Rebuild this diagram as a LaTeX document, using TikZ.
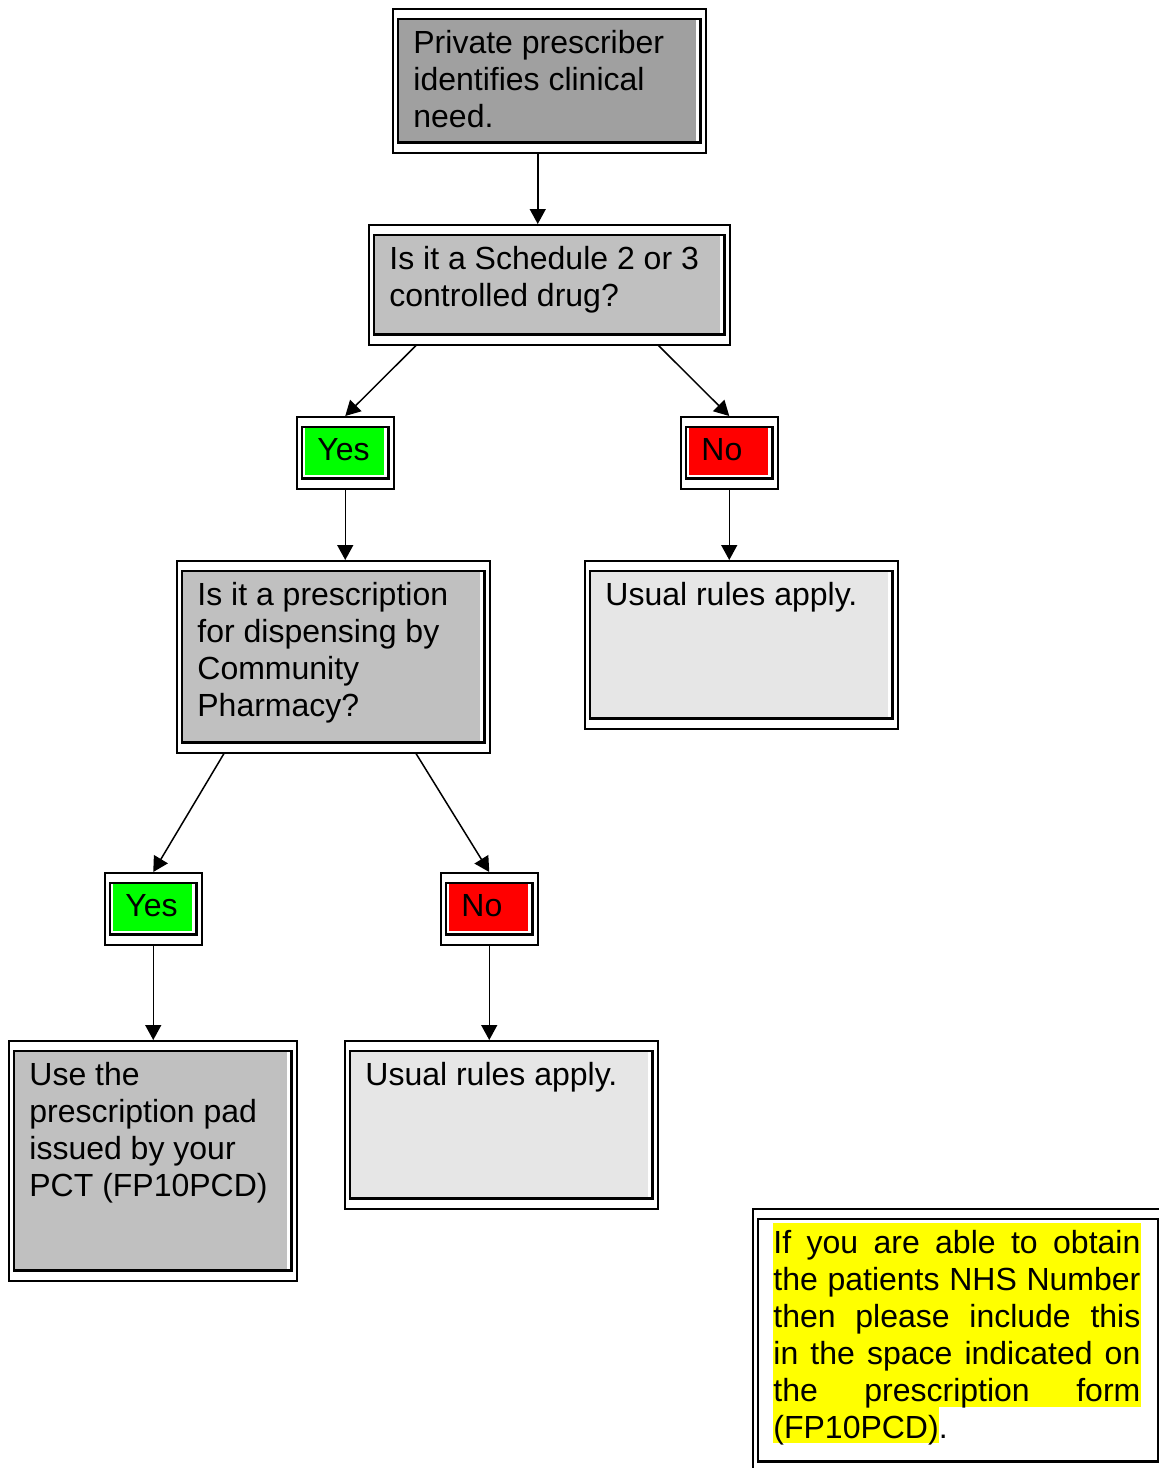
\documentclass[tikz,border=0pt]{standalone}
\usepackage{fontspec}
\setmainfont{Liberation Sans}
\usetikzlibrary{arrows.meta}

\definecolor{darkfill}{RGB}{160,160,160}
\definecolor{midfill}{RGB}{192,192,192}
\definecolor{lightfill}{RGB}{230,230,230}
\definecolor{yesfill}{RGB}{0,255,0}
\definecolor{nofill}{RGB}{255,0,0}
\definecolor{notefill}{RGB}{255,255,0}

\tikzset{
  frame/.style={draw, fill=white, line width=0.75pt, inner sep=0pt, anchor=north west},
  inner/.style={draw, line width=1.25pt},
  txt/.style={anchor=north west, inner sep=0pt, align=left, font=\fontsize{16}{18.5}\selectfont},
  flow/.style={-{Triangle[length=7.5pt,width=8pt]}, line width=0.75pt}
}

\begin{document}
\begin{tikzpicture}[x=0.5pt, y=-0.5pt]
  \useasboundingbox (0,0) rectangle (1158,1468);

  % Frames
  \node[frame, minimum width=156.5pt, minimum height=72pt] (need) at (392,8) {};
  \node[frame, minimum width=180.5pt, minimum height=60pt] (sched) at (368,224) {};
  \node[frame, minimum width=48.5pt, minimum height=36pt] (yes1) at (296,416) {};
  \node[frame, minimum width=48.5pt, minimum height=36pt] (no1) at (680,416) {};
  \node[frame, minimum width=156.5pt, minimum height=96pt] (comm) at (176,560) {};
  \node[frame, minimum width=156.5pt, minimum height=84pt] (usual1) at (584,560) {};
  \node[frame, minimum width=48.5pt, minimum height=36pt] (yes2) at (104,872) {};
  \node[frame, minimum width=48.5pt, minimum height=36pt] (no2) at (440,872) {};
  \node[frame, minimum width=144pt, minimum height=120pt] (pad) at (8,1040) {};
  \node[frame, minimum width=156.5pt, minimum height=84pt] (usual2) at (344,1040) {};
  \node[frame, minimum width=205.5pt, minimum height=131.5pt] (nhs) at (752,1208) {};

  % Inner boxes
  \foreach \n/\c in {need/darkfill, sched/midfill, comm/midfill, usual1/lightfill,
                     pad/midfill, usual2/lightfill, nhs/white} {
    \fill[\c] ([shift={(6,11)}]\n.north west) rectangle ([shift={(-11,-11)}]\n.south east);
    \draw[inner] ([shift={(6,11)}]\n.north west) rectangle ([shift={(-6,-11)}]\n.south east);
  }
  \foreach \n/\c in {yes1/yesfill, no1/nofill, yes2/yesfill, no2/nofill} {
    \fill[\c] ([shift={(9,11)}]\n.north west) rectangle ([shift={(-11,-15)}]\n.south east);
    \draw[inner] ([shift={(6,11)}]\n.north west) rectangle ([shift={(-6,-11)}]\n.south east);
  }

  % Highlight
  \fill[notefill] ([shift={(21,15)}]nhs.north west) rectangle ([shift={(389,199)}]nhs.north west);
  \fill[notefill] ([shift={(21,199)}]nhs.north west) rectangle ([shift={(187,235)}]nhs.north west);

  % Texts
  \node[txt] (need-t) at ([shift={(21,22)}]need.north west) {Private prescriber\\identifies clinical\\need.};
  \node[txt] (sched-t) at ([shift={(21,22)}]sched.north west) {Is it a Schedule 2 or 3\\controlled drug?};
  \node[txt] (yes1-t) at ([shift={(21,22)}]yes1.north west) {Yes};
  \node[txt] (no1-t) at ([shift={(21,22)}]no1.north west) {No};
  \node[txt] (comm-t) at ([shift={(21,22)}]comm.north west) {Is it a prescription\\for dispensing by\\Community\\Pharmacy?};
  \node[txt] (usual1-t) at ([shift={(21,22)}]usual1.north west) {Usual rules apply.};
  \node[txt] (yes2-t) at ([shift={(21,22)}]yes2.north west) {Yes};
  \node[txt] (no2-t) at ([shift={(21,22)}]no2.north west) {No};
  \node[txt] (pad-t) at ([shift={(21,22)}]pad.north west) {Use the\\prescription pad\\issued by your\\PCT (FP10PCD)};
  \node[txt] (usual2-t) at ([shift={(21,22)}]usual2.north west) {Usual rules apply.};
  \node[txt, text width=183.5pt, align=justify] (nhs-t) at ([shift={(21,22)}]nhs.north west)
    {\hyphenpenalty=10000 \tolerance=10000
     If you are able to obtain\linebreak the patients NHS Number\linebreak then please include this\linebreak
     in the space indicated on\linebreak the prescription form\linebreak (FP10PCD).};

  % Arrows
  \draw[flow] ([shift={(-11.5,0)}]need.south) -- ([shift={(-11.5,0)}]sched.north);
  \draw[flow] ([shift={(48,0)}]sched.south west) -- (yes1.north);
  \draw[flow] ([shift={(-72,0)}]sched.south east) -- (no1.north);
  \draw[flow] (yes1.south) -- (yes1.south |- comm.north);
  \draw[flow] (no1.south) -- (no1.south |- usual1.north);
  \draw[flow] ([shift={(48,0)}]comm.south west) -- (yes2.north);
  \draw[flow] ([shift={(240,0)}]comm.south west) -- (no2.north);
  \draw[flow] (yes2.south) -- (yes2.south |- pad.north);
  \draw[flow] (no2.south) -- (no2.south |- usual2.north);
\end{tikzpicture}
\end{document}
